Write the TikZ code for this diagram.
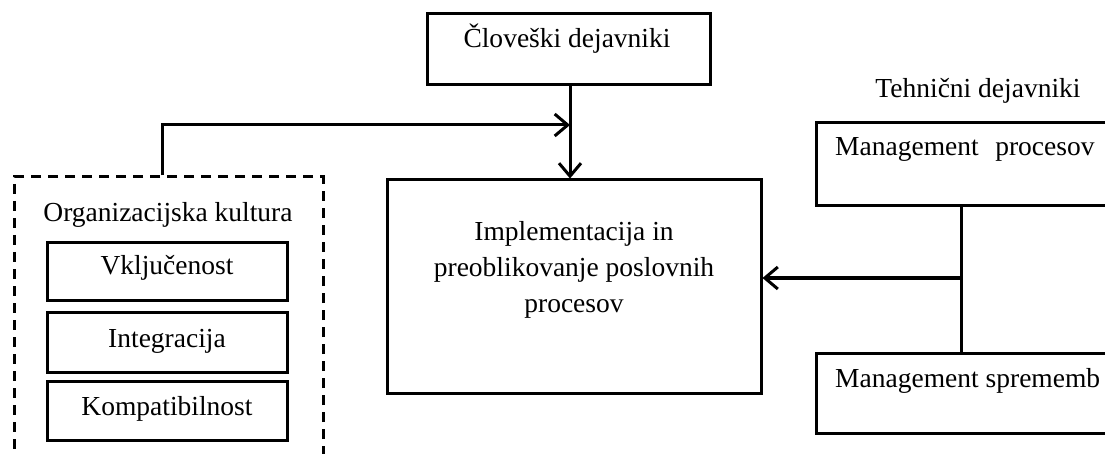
\documentclass[tikz,border=0pt]{standalone}
\usepackage{fontspec}
\setmainfont{Liberation Serif}
\usetikzlibrary{arrows.meta}
\begin{document}
\begin{tikzpicture}[x=1pt,y=-1pt,
  box/.style={draw,line width=3pt,rectangle,inner sep=0pt},
  dbox/.style={box,dash pattern=on 10pt off 7pt},
  lbl/.style={anchor=base,inner sep=0pt,font=\fontsize{27.5}{35}\selectfont},
  link/.style={line width=3pt},
  arr/.style={link,-{Straight Barb[length=13pt,width=22pt]}}]
\useasboundingbox (0,0) rectangle (1105,454);
\clip (0,0) rectangle (1105,454);

% boxes
\node[box,minimum width=283pt,minimum height=71pt] (human) at (568.5,49.5) {};
\node[box,minimum width=374pt,minimum height=213pt] (impl) at (574,286.5) {};
\node[dbox,minimum width=309pt,minimum height=293pt] (org) at (168.5,323.5) {};
\node[box,minimum width=240pt,minimum height=57pt] (vkl) at (167,271.5) {};
\node[box,minimum width=240pt,minimum height=60pt] (int) at (167,342) {};
\node[box,minimum width=240pt,minimum height=59pt] (kom) at (167,410.5) {};
\node[box,minimum width=309pt,minimum height=83pt] (mproc) at (970.5,164.5) {};
\node[box,minimum width=309pt,minimum height=80pt] (mspr) at (970.5,393) {};

% texts
\node[lbl] (thuman) at (567,48) {Človeški dejavniki};
\node[lbl] (timpl1) at (574,241) {Implementacija in};
\node[lbl] (timpl2) at (574,276.5) {preoblikovanje poslovnih};
\node[lbl] (timpl3) at (574,312) {procesov};
\node[lbl] (torg) at (168,222) {Organizacijska kultura};
\node[lbl] (tvkl) at (167,275) {Vključenost};
\node[lbl] (tint) at (167,347) {Integracija};
\node[lbl] (tkom) at (167,415) {Kompatibilnost};
\node[lbl] (ttech) at (978,98) {Tehnični dejavniki};
\node[lbl,anchor=base west] (tmproc) at (835,156) {Management\hspace{0.6em}procesov};
\node[lbl,anchor=base west] (tmspr) at (835,387) {Management sprememb};

% junction points
\coordinate (j) at (570,125);
\coordinate (k) at (961,278);

% connectors
\draw[arr] (human.south -| j) -- (impl.north -| j);
\draw[arr] ([xshift=-6.5pt]org.north) |- (j);
\draw[link] (mproc.south -| k) -- (mspr.north -| k);
\draw[arr] (k) -- (impl.east |- k);
\end{tikzpicture}
\end{document}
